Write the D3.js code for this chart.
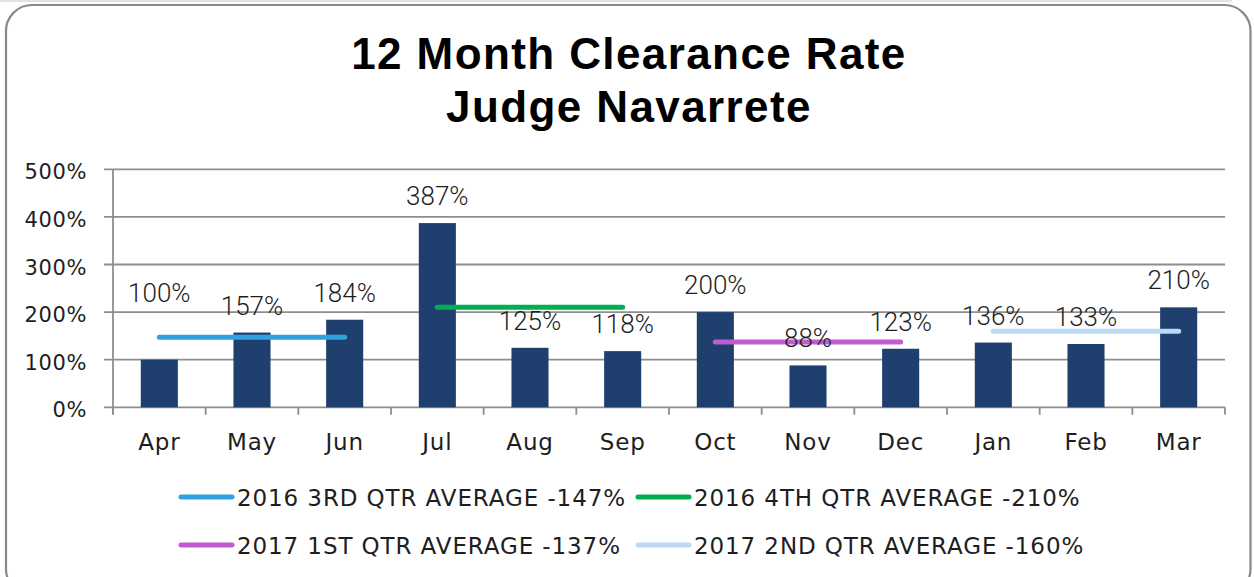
<!DOCTYPE html>
<html>
<head>
<meta charset="utf-8">
<script src="https://cdnjs.cloudflare.com/ajax/libs/d3/7.8.5/d3.min.js"></script>
<style>
  html, body { margin: 0; padding: 0; background: #ffffff; }
  svg { display: block; }
</style>
</head>
<body>
<svg id="chart" width="1254" height="577"></svg>
<script>
// ---- data ----
const titleLines = ["12 Month Clearance Rate", "Judge Navarrete"];
const months = ["Apr", "May", "Jun", "Jul", "Aug", "Sep", "Oct", "Nov", "Dec", "Jan", "Feb", "Mar"];
const clearanceRate = [100, 157, 184, 387, 125, 118, 200, 88, 123, 136, 133, 210];
const yTicks = [0, 100, 200, 300, 400, 500];
const avgNames = ["2016 3RD QTR AVERAGE -147%", "2016 4TH QTR AVERAGE -210%", "2017 1ST QTR AVERAGE -137%", "2017 2ND QTR AVERAGE -160%"];
const avgValues = [147, 210, 137, 160];
const avgStart = ["Apr", "Jul", "Oct", "Jan"];
const avgEnd = ["Jun", "Sep", "Dec", "Mar"];

// ---- style ----
const avgColors = ["#2ea3e0", "#00b050", "#c05cd0", "#bcd9f6"];
const barColor = "#1f3f6f";
const gridColor = "#8e8e8e";
const textColor = "#1e1e1e";
const labelNudge = [-40, 0, 0, 0, 0, 0, 0, 0, 0, 0, 0, 0];

const svg = d3.select("#chart");

// outer frame
svg.append("line").attr("x1", 0).attr("x2", 1232).attr("y1", 1).attr("y2", 1)
  .attr("stroke", "#d9d9d9").attr("stroke-width", 1.5);
svg.append("rect").attr("x", 6).attr("y", 5).attr("width", 1244.5).attr("height", 590)
  .attr("rx", 26).attr("ry", 26).attr("fill", "#ffffff")
  .attr("stroke", "#8a8a8a").attr("stroke-width", 2.2);

// title
svg.selectAll("text.title").data(titleLines).join("text")
  .attr("class", "title")
  .attr("x", 629).attr("y", (d, i) => 69 + i * 53)
  .attr("text-anchor", "middle")
  .attr("font-family", "'Liberation Sans', Arial, sans-serif")
  .attr("font-weight", "bold").attr("font-size", 44)
  .attr("letter-spacing", 1.4)
  .attr("fill", "#000")
  .text(d => d);

// scales
const plotLeft = 113, plotRight = 1225, plotTop = 169.3, plotBottom = 407.3;
const x = d3.scaleBand().domain(months).range([plotLeft, plotRight]).paddingInner(0.6).paddingOuter(0.3);
const xEdge = d3.scalePoint().domain(d3.range(months.length + 1)).range([plotLeft, plotRight]);
const y = d3.scaleLinear().domain([0, 500]).range([plotBottom, plotTop]);
const cx = m => x(m) + x.bandwidth() / 2;

// gridlines
svg.append("g").selectAll("line").data(yTicks).join("line")
  .attr("x1", plotLeft - 9).attr("x2", plotRight)
  .attr("y1", d => y(d)).attr("y2", d => y(d))
  .attr("stroke", gridColor).attr("stroke-width", 1.8);

// y axis line
svg.append("line").attr("x1", plotLeft).attr("x2", plotLeft)
  .attr("y1", plotTop).attr("y2", plotBottom + 7)
  .attr("stroke", gridColor).attr("stroke-width", 1.8);

// x tick marks
svg.append("g").selectAll("line").data(d3.range(months.length + 1)).join("line")
  .attr("x1", d => xEdge(d)).attr("x2", d => xEdge(d))
  .attr("y1", plotBottom).attr("y2", plotBottom + 7.5)
  .attr("stroke", gridColor).attr("stroke-width", 1.8);

// y tick labels
svg.append("g").selectAll("text").data(yTicks).join("text")
  .attr("x", 87).attr("y", d => y(d) + 10)
  .attr("text-anchor", "end")
  .attr("font-family", "'DejaVu Sans', sans-serif").attr("font-size", 21)
  .attr("letter-spacing", 0.6)
  .attr("fill", textColor)
  .text(d => d + "%");

// month labels
svg.append("g").selectAll("text").data(months).join("text")
  .attr("x", d => cx(d)).attr("y", 450)
  .attr("text-anchor", "middle")
  .attr("font-family", "'DejaVu Sans', sans-serif").attr("font-size", 23)
  .attr("letter-spacing", 0.8)
  .attr("fill", textColor)
  .text(d => d);

// bars
svg.append("g").selectAll("rect").data(clearanceRate).join("rect")
  .attr("x", (d, i) => x(months[i])).attr("width", x.bandwidth())
  .attr("y", d => y(d)).attr("height", d => plotBottom - y(d))
  .attr("fill", barColor);

// average lines
svg.append("g").selectAll("line").data(avgValues).join("line")
  .attr("x1", (d, i) => cx(avgStart[i])).attr("x2", (d, i) => cx(avgEnd[i]))
  .attr("y1", d => y(d)).attr("y2", d => y(d))
  .attr("stroke", (d, i) => avgColors[i]).attr("stroke-width", 5)
  .attr("stroke-linecap", "round");

// data labels
svg.append("g").selectAll("text").data(clearanceRate).join("text")
  .attr("x", (d, i) => cx(months[i]))
  .attr("y", (d, i) => y(d) - 18 + labelNudge[i])
  .attr("text-anchor", "middle")
  .attr("font-family", "Roboto, sans-serif").attr("font-weight", 300).attr("font-size", 26)
  .attr("fill", textColor)
  .text(d => d + "%");

// legend
const legendX = [179, 636];
const legendY = [497, 545];
const lg = svg.append("g").selectAll("g").data(avgNames).join("g")
  .attr("transform", (d, i) => `translate(${legendX[i % 2]},${legendY[Math.floor(i / 2)]})`);
lg.append("line").attr("x1", 2).attr("x2", 53).attr("y1", 0).attr("y2", 0)
  .attr("stroke", (d, i) => avgColors[i]).attr("stroke-width", 5).attr("stroke-linecap", "round");
lg.append("text").attr("x", 58).attr("y", 8.5)
  .attr("font-family", "'DejaVu Sans', sans-serif").attr("font-size", 23)
  .attr("letter-spacing", 0.9)
  .attr("fill", textColor)
  .text(d => d);
</script>
</body>
</html>
